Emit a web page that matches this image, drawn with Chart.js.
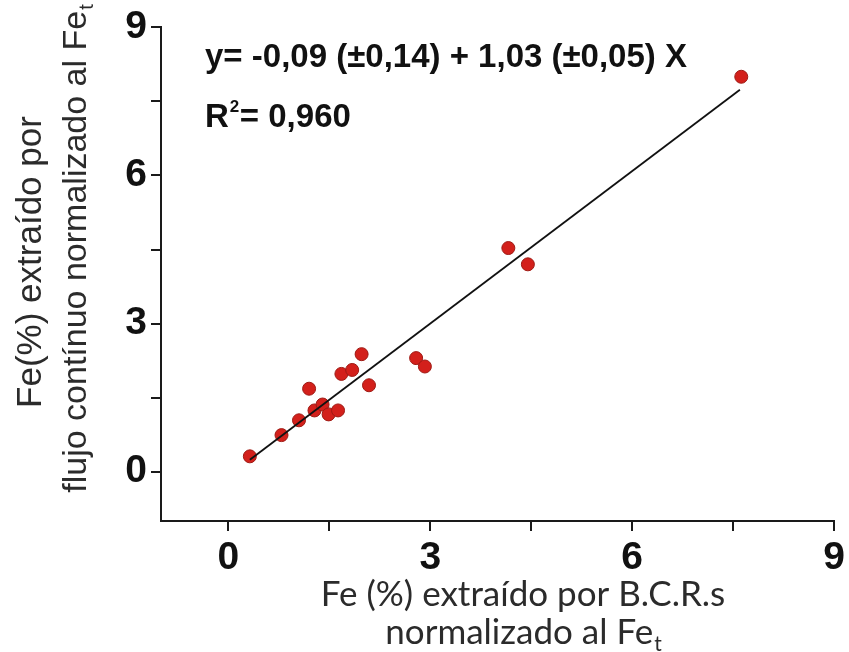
<!DOCTYPE html>
<html>
<head>
<meta charset="utf-8">
<script src="https://cdn.jsdelivr.net/npm/chart.js@4/dist/chart.umd.min.js"></script>
<style>
  html, body { margin: 0; padding: 0; background: #fff; }
</style>
</head>
<body>
<canvas id="myChart" width="849" height="652"></canvas>
<script>
// Fe extraído por B.C.R.s (x) frente a flujo contínuo (y), normalizado al Fe total
const bcrValues   = [0.32, 0.79, 1.05, 1.20, 1.28, 1.40, 1.49, 1.63, 1.68, 1.84, 1.98, 2.09, 2.79, 2.92, 4.16, 4.45, 7.62];
const flujoValues = [0.31, 0.74, 1.04, 1.68, 1.24, 1.36, 1.16, 1.24, 1.98, 2.06, 2.38, 1.75, 2.30, 2.13, 4.53, 4.20, 8.00];

// recta de regresión y = a + b x
const intercept = -0.09;
const slope = 1.03;
const fitFrom = 0.32;
const fitTo = 7.6;

const tickValues = [0, 1.5, 3, 4.5, 6, 7.5, 9];
const labelledTicks = [0, 3, 6, 9];
const axisMin = -1;
const axisMax = 9;

const equationText = 'y= -0,09 (±0,14) + 1,03 (±0,05) X';
const r2Value = '0,960';

const xTitle = ['Fe (%) extraído por B.C.R.s', 'normalizado al Fe'];
const yTitle = ['Fe(%) extraído por', 'flujo contínuo normalizado al Fe'];

const points = bcrValues.map((x, i) => ({ x: x, y: flujoValues[i] }));
const fitLine = [fitFrom, fitTo].map(x => ({ x: x, y: intercept + slope * x }));

const axisColor = '#1a1a1a';
const tickFont = { family: 'Liberation Sans, Arial, sans-serif', size: 39, weight: 'bold' };

// draws "main" followed by a small subscript, centred on x
function textWithSub(ctx, main, sub, x, y, size, family) {
  ctx.font = size + 'px ' + family;
  const w1 = ctx.measureText(main).width;
  ctx.font = Math.round(size * 0.6) + 'px ' + family;
  const w2 = ctx.measureText(sub).width;
  const start = x - (w1 + w2) / 2;
  ctx.textAlign = 'left';
  ctx.font = size + 'px ' + family;
  ctx.fillText(main, start, y);
  if (sub) {
    ctx.font = Math.round(size * 0.6) + 'px ' + family;
    ctx.fillText(sub, start + w1 + 1, y + size * 0.2);
  }
}

const textPlugin = {
  id: 'textPlugin',
  afterDraw(chart) {
    const ctx = chart.ctx;
    ctx.save();
    ctx.textBaseline = 'alphabetic';

    // ecuación y R²
    const eqFont = 'bold 33px Liberation Sans, Arial, sans-serif';
    ctx.fillStyle = '#111';
    ctx.textAlign = 'left';
    ctx.font = eqFont;
    ctx.fillText(equationText, 205, 67);
    ctx.fillText('R', 205, 127);
    const rw = ctx.measureText('R').width;
    ctx.font = 'bold 17px Liberation Sans, Arial, sans-serif';
    ctx.fillText('2', 205 + rw + 1, 112);
    ctx.font = eqFont;
    ctx.fillText('= ' + r2Value, 205 + rw + 11, 127);

    // título eje x
    ctx.fillStyle = '#2b2b2b';
    textWithSub(ctx, xTitle[0], '', 523, 606, 35, 'Lato, sans-serif');
    textWithSub(ctx, xTitle[1], 't', 523, 644, 35, 'Lato, sans-serif');

    // título eje y (girado)
    ctx.save();
    ctx.translate(41, 262);
    ctx.rotate(-Math.PI / 2);
    textWithSub(ctx, yTitle[0], '', 0, 0, 35, 'Liberation Sans, Arial, sans-serif');
    ctx.restore();
    ctx.save();
    ctx.translate(86, 249);
    ctx.rotate(-Math.PI / 2);
    textWithSub(ctx, yTitle[1], 't', 0, 0, 34, 'Liberation Sans, Arial, sans-serif');
    ctx.restore();

    ctx.restore();
  }
};

function setTicks(scale) {
  scale.ticks = tickValues.map(v => ({ value: v }));
}

function tickLabel(v) {
  return labelledTicks.includes(v) ? String(v) : '';
}

const config = {
  type: 'scatter',
  data: {
    datasets: [
      {
        label: 'Ajuste lineal',
        data: fitLine,
        showLine: true,
        pointRadius: 0,
        borderColor: '#111',
        borderWidth: 1.8,
        order: 0
      },
      {
        label: 'Fe',
        data: points,
        pointRadius: 6.5,
        pointBackgroundColor: '#d3201b',
        pointBorderColor: '#9e1a14',
        pointBorderWidth: 1,
        order: 1
      }
    ]
  },
  options: {
    responsive: false,
    animation: false,
    layout: { padding: { top: 27, right: 12, left: 0, bottom: 0 } },
    plugins: {
      legend: { display: false },
      tooltip: { enabled: false }
    },
    scales: {
      x: {
        type: 'linear',
        min: axisMin,
        max: axisMax,
        afterBuildTicks: setTicks,
        afterFit: s => { s.height = 131; },
        border: { display: true, color: axisColor, width: 2 },
        grid: { drawOnChartArea: false, drawTicks: true, tickLength: 10, color: axisColor, lineWidth: 2 },
        ticks: { font: tickFont, color: '#111', padding: 4, maxRotation: 0, autoSkip: false, callback: tickLabel }
      },
      y: {
        type: 'linear',
        min: axisMin,
        max: axisMax,
        afterBuildTicks: setTicks,
        afterFit: s => { s.width = 161; },
        border: { display: true, color: axisColor, width: 2 },
        grid: { drawOnChartArea: false, drawTicks: true, tickLength: 10, color: axisColor, lineWidth: 2 },
        ticks: { font: tickFont, color: '#111', padding: 4, autoSkip: false, callback: tickLabel }
      }
    }
  },
  plugins: [textPlugin]
};

const myChart = new Chart(document.getElementById('myChart'), config);
</script>
</body>
</html>
